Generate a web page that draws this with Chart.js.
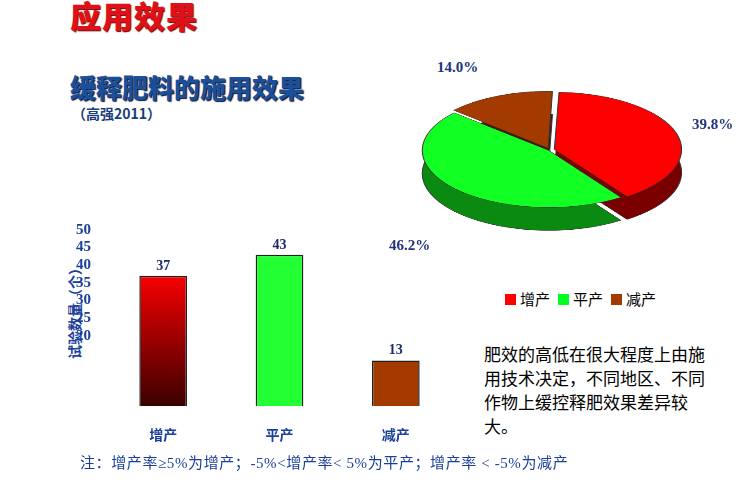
<!DOCTYPE html>
<html><head><meta charset="utf-8">
<script src="https://cdn.jsdelivr.net/npm/chart.js@4"></script>
<style>
body{margin:0;width:750px;height:500px;background:#fff;position:relative;overflow:hidden;font-family:"Noto Sans CJK SC",sans-serif}
.abs{position:absolute}
#t1{left:70px;top:-8px;font-size:31px;font-weight:900;color:#e0101a;letter-spacing:1px;text-shadow:1px 1px 1px #600}
#t2{left:70px;top:68px;font-size:26px;font-weight:900;color:#1a4f9a;text-shadow:1px 1px 1px #113}
#t3{left:72px;top:103px;font-size:14px;font-weight:700;color:#1a3f7a}
.pl{font-family:"Liberation Serif",serif;font-weight:700;font-size:15px;color:#22337a}
#leg{left:505px;top:288px;font-size:15px;color:#000;display:flex;gap:8px;align-items:center}
.sq{display:inline-block;width:11px;height:11px;margin-right:4px}
#para{left:484px;top:342px;width:226px;font-size:17px;line-height:24px;color:#000}
#note{left:80px;top:451px;font-size:15px;color:#1a3f9a;white-space:nowrap;font-family:"Liberation Serif","Noto Sans CJK SC",serif;letter-spacing:0.6px}
#ylab{left:25px;top:300px;font-size:14px;font-weight:700;color:#1a3f9a;transform:rotate(-90deg);transform-origin:center;white-space:nowrap}
#pieDepth,#pieTop{left:405px;top:5px;width:290px;height:290px;transform:scaleY(0.45)}
#pieDepth{top:28px}
</style></head><body>
<div id="t1" class="abs">应用效果</div>
<div id="t2" class="abs">缓释肥料的施用效果</div>
<div id="t3" class="abs">（高强2011）</div>
<div id="ylab" class="abs">试验数量（个）</div>
<div class="abs" style="left:60px;top:215px;width:400px;height:240px"><canvas id="bar"></canvas></div>
<div id="pieDepth" class="abs"><canvas id="pd"></canvas></div>
<div id="pieTop" class="abs"><canvas id="pt"></canvas></div>
<div class="abs pl" style="left:437px;top:59px">14.0%</div>
<div class="abs pl" style="left:692px;top:116px">39.8%</div>
<div class="abs pl" style="left:389px;top:237px">46.2%</div>
<div id="leg" class="abs"><span><i class="sq" style="background:#ff0000"></i>增产</span><span><i class="sq" style="background:#00ff22"></i>平产</span><span><i class="sq" style="background:#a33a00"></i>减产</span></div>
<div id="para" class="abs">肥效的高低在很大程度上由施用技术决定，不同地区、不同作物上缓控释肥效果差异较大。</div>
<div id="note" class="abs">注：增产率≥5%为增产；-5%&lt;增产率&lt; 5%为平产；增产率 &lt; -5%为减产</div>
<script>
const categories=["增产","平产","减产"];
const counts=[37,43,13];
const pieShares=[39.8,46.2,14.0];
const yTicks=[20,25,30,35,40,45,50];

const valPlugin={id:'vals',afterDatasetsDraw(c){const ctx=c.ctx;ctx.save();ctx.font='bold 14px "Liberation Serif"';ctx.fillStyle='#1a2a6a';ctx.textAlign='center';
c.getDatasetMeta(0).data.forEach((b,i)=>ctx.fillText(counts[i],b.x,b.y-6));ctx.restore();}};
new Chart(document.getElementById('bar'),{type:'bar',
data:{labels:categories,datasets:[{data:counts,borderColor:'#222',borderWidth:1.5,
backgroundColor(ctx){const ch=ctx.chart,a=ch.chartArea;if(!a)return'#f00';const i=ctx.dataIndex;
if(i===0){const g=ch.ctx.createLinearGradient(0,a.top+40,0,a.bottom);g.addColorStop(0,'#ff0000');g.addColorStop(1,'#3a0000');return g;}
return i===1?'#22ff33':'#a33a00';},barPercentage:0.82,categoryPercentage:0.5}]},
options:{responsive:true,maintainAspectRatio:false,animation:false,layout:{padding:{left:10,right:6,top:8}},
plugins:{legend:{display:false},tooltip:{enabled:false}},
scales:{x:{grid:{display:false},border:{display:false},ticks:{color:'#1a3f9a',font:{size:14,weight:'bold',family:'"Noto Sans CJK SC"'},padding:12}},
y:{min:0,max:50,grid:{display:false},border:{display:false},afterBuildTicks(ax){ax.ticks=yTicks.map(v=>({value:v}));},
ticks:{color:'#1a3f9a',font:{size:15,weight:'bold',family:'"Liberation Serif"'},padding:6}}}},plugins:[valPlugin]});

function pie(id,cols,border){new Chart(document.getElementById(id),{type:'pie',
data:{labels:categories,datasets:[{data:pieShares,backgroundColor:cols,borderColor:border,borderWidth:1,offset:[18,6,18]}]},
options:{responsive:true,maintainAspectRatio:false,animation:false,rotation:2,layout:{padding:10},plugins:{legend:{display:false},tooltip:{enabled:false}}}});}
pie('pd',['#7a0000','#0a8a10','#4a1a00'],'#333');
pie('pt',['#ff0000','#11ff22','#a33a00'],'#333');
</script></body></html>
